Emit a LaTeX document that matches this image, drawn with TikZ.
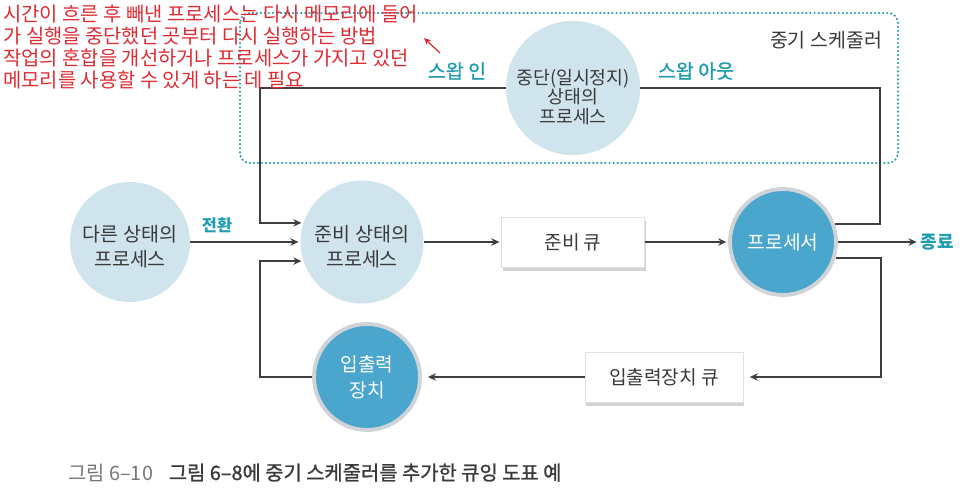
\documentclass[tikz,border=0pt]{standalone}
\usepackage{fontspec}
\setmainfont{Noto Sans CJK KR}
\newfontfamily\krsemi[FakeBold=1.2]{Noto Sans CJK KR}
\usetikzlibrary{arrows.meta,shadows}
\definecolor{lineink}{RGB}{62,62,62}
\definecolor{paleblue}{RGB}{207,228,236}
\definecolor{cpublue}{RGB}{74,166,205}
\definecolor{ringgray}{RGB}{208,212,216}
\definecolor{swapteal}{RGB}{32,156,176}
\definecolor{dotteal}{RGB}{44,160,172}
\definecolor{notered}{RGB}{222,44,52}
\definecolor{textgray}{RGB}{58,58,58}
\definecolor{capgray}{RGB}{118,118,118}

\begin{document}
\begin{tikzpicture}[x=0.02cm,y=-0.02cm,
  state/.style={circle,fill=paleblue,text=textgray,align=center,inner sep=0pt,
    text height=1.02cm,font=\fontsize{11.1}{14.2}\selectfont},
  device/.style={circle,fill=cpublue,draw=ringgray,line width=2.2pt,text=white,
    align=center,inner sep=0pt,minimum size=2.12cm,font=\fontsize{10.9}{15}\selectfont},
  queue/.style={rectangle,fill=white,draw=black!12,text=textgray,minimum height=1cm,
    font=\fontsize{10.9}{12}\selectfont,
    drop shadow={shadow xshift=0.6pt,shadow yshift=-2pt,opacity=0.35}},
  swaplabel/.style={text=swapteal,inner sep=1pt,font=\fontsize{11.1}{13}\selectfont\krsemi},
  link/.style={draw=lineink,line width=0.85pt},
  flow/.style={link,-{Stealth[length=4.6pt,width=4.2pt]},shorten >=1pt}]
  \def\Wd{970}
  \def\Ht{493}
  \useasboundingbox (0,0) rectangle (\Wd,\Ht);

  % medium-term scheduler frame
  \draw[dotteal,line width=1.4pt,dash pattern=on 0pt off 2.3pt,line cap=round,
    rounded corners=0.2cm] (240,13) rectangle (898,163);
  \node[text=textgray,font=\fontsize{11.1}{13}\selectfont] (schedlbl) at (826,40) {중기 스케줄러};

  % states and queues
  \node[state,minimum size=2.56cm,text height=1.43cm,font=\fontsize{10.4}{10.9}\selectfont]
    (susp) at (573,88) {중단(일시정지)\\상태의\\프로세스};
  \node[state,minimum size=2.4cm] (other) at (130,242) {다른 상태의\\프로세스};
  \node[state,minimum size=2.46cm] (ready) at (362,242) {준비 상태의\\프로세스};
  \node[queue,minimum width=2.86cm] (readyq) at (573,242) {준비 큐};
  \node[device] (cpu) at (783,242) {프로세서};
  \node[device] (io) at (367,377) {입출력\\장치};
  \node[queue,minimum width=3.16cm] (ioq) at (664,377) {입출력장치 큐};

  % labels
  \node[swaplabel] (swapinlbl) at (457,71) {스왑 인};
  \node[swaplabel] (swapoutlbl) at (696,71) {스왑 아웃};
  \node[swaplabel,font=\fontsize{9.3}{11}\selectfont\bfseries] (switchlbl) at (217,225) {전환};
  \node[swaplabel,font=\fontsize{10.2}{12}\selectfont\bfseries] (endlbl) at (937,242) {종료};

  % turning points
  \coordinate (swapin) at (260,88);
  \coordinate (swapout) at (880,88);
  \coordinate (iodown) at (881,377);
  \coordinate (ioup) at (260,377);

  % connectors
  \draw[flow] (other) -- (ready);
  \draw[flow] (ready) -- (readyq);
  \draw[flow] (readyq) -- (cpu);
  \draw[flow] (cpu) -- (endlbl);
  \draw[link] (cpu.19) -| (swapout) -- (susp.east);
  \draw[flow] (susp.west) -- (swapin) |- (ready.162);
  \draw[flow,shorten >=0.13cm] (cpu.-17) -| (iodown) -- (ioq.east);
  \draw[flow,shorten >=0.12cm] (ioq) -- (io);
  \draw[flow] (io.west) -- (ioup) |- (ready.198);

  % red note
  \node[text=notered,anchor=base west,align=left,inner sep=0pt,
    font=\fontsize{11.3}{12.7}\selectfont] (note) at (3,88)
    {시간이 흐른 후 빼낸 프로세스는 다시 메모리에 들어\\
     가 실행을 중단했던 곳부터 다시 실행하는 방법\\
     작업의 혼합을 개선하거나 프로세스가 가지고 있던\\
     메모리를 사용할 수 있게 하는 데 필요};
  \coordinate (notetail) at (440,53);
  \coordinate (notetip) at (424,38);
  \draw[notered,line width=0.7pt,-{Stealth[length=4pt,width=3.6pt]}] (notetail) -- (notetip);

  % caption
  \node[anchor=base west,inner sep=0pt,font=\fontsize{11.3}{13}\selectfont] (caption) at (68,480)
    {\textcolor{capgray}{그림 6–10}\hspace{0.8em}\textcolor{textgray}{\krsemi 그림 6–8에 중기 스케줄러를 추가한 큐잉 도표 예}};
\end{tikzpicture}
\end{document}
